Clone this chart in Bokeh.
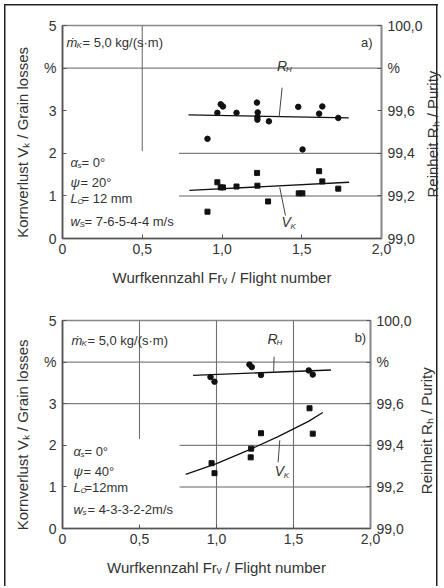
from bokeh.plotting import figure
from bokeh.layouts import column, row
from bokeh.models import Range1d, LinearAxis, FixedTicker
from bokeh.core.properties import value
from bokeh.embed import file_html
from bokeh.resources import INLINE

FONT = "Liberation Sans"
TXT = "#333333"
NB = "\u00a0"

# ---------------- data ----------------
x_ticks = [0, 0.5, 1.0, 1.5, 2.0]
x_tick_labels = ["0", "0,5", "1,0", "1,5", "2,0"]
vk_ticks = [0, 1, 2, 3, 4, 5]
vk_tick_labels = ["0", "1", "2", "3", "%", "5"]
rh_ticks = [99.0, 99.2, 99.4, 99.6, 99.8, 100.0]
rh_tick_labels = ["99,0", "99,2", "99,4", "99,6", "%", "100,0"]

x_title = "Wurfkennzahl Frᵥ / Flight number"
left_title = "Kornverlust Vₖ / Grain losses"
right_title = "Reinheit Rₕ / Purity"

# panel a)  Grain losses V_K (%) and purity R_H (%)
a_vk_fr = [0.909, 0.971, 0.992, 1.006, 1.091, 1.220, 1.222, 1.289, 1.481, 1.504, 1.609, 1.629, 1.729]
a_vk = [0.63, 1.32, 1.20, 1.20, 1.22, 1.54, 1.24, 0.87, 1.06, 1.06, 1.58, 1.34, 1.17]
a_rh_fr = [0.909, 0.971, 0.992, 1.006, 1.091, 1.219, 1.224, 1.222, 1.222, 1.294, 1.478, 1.505, 1.609, 1.629, 1.729]
a_rh = [99.468, 99.590, 99.630, 99.620, 99.590, 99.638, 99.592, 99.570, 99.558, 99.550, 99.618, 99.418, 99.586, 99.620, 99.566]
a_vk_fit_fr = [0.795, 1.797]
a_vk_fit = [1.13, 1.32]
a_rh_fit_fr = [0.790, 1.795]
a_rh_fit = [99.580, 99.566]

# panel b)
b_vk_fr = [0.968, 0.987, 1.225, 1.222, 1.289, 1.604, 1.625]
b_vk = [1.57, 1.33, 1.92, 1.71, 2.29, 2.89, 2.28]
b_rh_fr = [0.961, 0.987, 1.214, 1.229, 1.289, 1.599, 1.625]
b_rh = [99.728, 99.706, 99.788, 99.776, 99.738, 99.760, 99.740]
b_vk_fit_fr = [0.80, 1.00, 1.20, 1.40, 1.60, 1.69]
b_vk_fit = [1.30, 1.56, 1.87, 2.21, 2.58, 2.79]
b_rh_fit_fr = [0.848, 1.743]
b_rh_fit = [99.736, 99.762]

# reference lines inside the plots (x0, x1, y)
a_hlines = [(0.0, 2.0, 4.0), (0.73, 2.0, 2.0), (0.73, 2.0, 1.0)]
a_vlines = [(0.5, 2.05, 5.0)]
b_hlines = [(0.0, 2.0, 4.0), (0.0, 2.0, 3.0), (0.76, 2.0, 2.0), (0.76, 2.0, 1.0)]
b_vlines = [(0.5, 2.15, 5.0), (1.0, 0.0, 5.0), (1.5, 0.0, 5.0)]

# leader lines of curve labels  (x0, y0, x1, y1)
a_rh_leader = (1.377, 99.708, 1.358, 99.570)
a_vk_leader = (1.362, 1.20, 1.398, 0.54)
b_rh_leader = (1.374, 99.826, 1.371, 99.754)
b_vk_leader = (1.411, 2.12, 1.400, 1.59)


def rich(p, x, y, parts, y_range_name="default"):
    """parts: (text, dx_px, dy_px, size_px, italic)"""
    for t, dx, dy, sz, it in parts:
        p.text(x=[x], y=[y], text=[t], x_offset=dx, y_offset=dy,
               text_font=value(FONT), text_font_size=f"{sz}px",
               text_font_style="italic" if it else "normal",
               text_color=TXT, text_baseline="middle", text_align="left",
               y_range_name=y_range_name)


def style_axis(ax, ticks, labels):
    ax.ticker = FixedTicker(ticks=ticks)
    ax.major_label_overrides = {t: l for t, l in zip(ticks, labels)}
    ax.major_label_text_font = FONT
    ax.major_label_text_font_size = "14px"
    ax.major_label_text_color = TXT
    ax.axis_label_text_font = FONT
    ax.axis_label_text_font_size = "15px"
    ax.axis_label_text_font_style = "normal"
    ax.axis_label_text_color = TXT
    ax.major_tick_in = 4
    ax.major_tick_out = 0
    ax.minor_tick_in = 0
    ax.minor_tick_out = 0
    ax.major_tick_line_color = "#555555"
    ax.axis_line_color = "#555555"
    ax.axis_line_width = 1.6


def panel(width, height, bt, bb, br, hl, vl):
    p = figure(width=width, height=height, x_range=Range1d(0, 2), y_range=Range1d(0, 5),
               output_backend="svg", toolbar_location=None,
               min_border_left=62, min_border_right=br, min_border_top=bt, min_border_bottom=bb)
    p.extra_y_ranges = {"pur": Range1d(99.0, 100.0)}
    p.xgrid.visible = False
    p.ygrid.visible = False
    p.border_fill_color = None
    p.background_fill_color = None
    p.outline_line_color = "#888888"
    p.outline_line_width = 1.6

    xa = p.xaxis[0]
    style_axis(xa, x_ticks, x_tick_labels)
    xa.axis_label = x_title
    xa.major_label_standoff = 5
    xa.axis_label_standoff = 12

    ya = p.yaxis[0]
    style_axis(ya, vk_ticks, vk_tick_labels)
    ya.axis_label = left_title + NB * 5
    ya.major_label_standoff = 6
    ya.axis_label_standoff = 10

    ra = LinearAxis(y_range_name="pur")
    style_axis(ra, rh_ticks, rh_tick_labels)
    ra.axis_line_color = "#888888"
    ra.major_label_standoff = 6
    p.add_layout(ra, "right")

    for x0, x1, y in hl:
        light = (y == 1.0)
        p.segment(x0=[x0], x1=[x1], y0=[y], y1=[y],
                  line_color="#b0b0b0" if light else "#808080",
                  line_width=2.0 if light else 1.2)
    for x, y0, y1 in vl:
        p.segment(x0=[x], x1=[x], y0=[y0], y1=[y1], line_color="#707070", line_width=1.1)
    return p


def title_strip(width, height, bt, bb, standoff, pad):
    """narrow strip whose (left) axis carries the purity title, read bottom-to-top"""
    t = figure(width=width, height=height, x_range=Range1d(0, 1), y_range=Range1d(0, 5),
               output_backend="svg", toolbar_location=None, x_axis_location=None,
               min_border_left=width - 1, min_border_right=0, min_border_top=bt, min_border_bottom=bb)
    t.xgrid.visible = False
    t.ygrid.visible = False
    t.border_fill_color = None
    t.background_fill_color = None
    t.outline_line_color = None
    ax = t.yaxis[0]
    ax.ticker = FixedTicker(ticks=[])
    ax.axis_line_color = None
    ax.major_tick_line_color = None
    ax.minor_tick_line_color = None
    ax.major_tick_in = 0
    ax.major_tick_out = 0
    ax.minor_tick_in = 0
    ax.minor_tick_out = 0
    ax.major_label_standoff = 0
    ax.axis_label = right_title + NB * pad
    ax.axis_label_text_font = FONT
    ax.axis_label_text_font_size = "15px"
    ax.axis_label_text_font_style = "normal"
    ax.axis_label_text_color = TXT
    ax.axis_label_standoff = standoff
    return t


# ---------------- panel a ----------------
pa = panel(425, 300, 25, 62, 41, a_hlines, a_vlines)
pa.line(a_rh_fit_fr, a_rh_fit, y_range_name="pur", line_color="#111111", line_width=1.3)
pa.line(a_vk_fit_fr, a_vk_fit, line_color="#111111", line_width=1.3)
pa.scatter(a_rh_fr, a_rh, y_range_name="pur", marker="circle", size=5.5, color="#111111")
pa.scatter(a_vk_fr, a_vk, marker="square", size=5, color="#111111")
pa.segment(x0=[a_rh_leader[0]], y0=[a_rh_leader[1]], x1=[a_rh_leader[2]], y1=[a_rh_leader[3]],
           y_range_name="pur", line_color="#444444", line_width=1)
pa.segment(x0=[a_vk_leader[0]], y0=[a_vk_leader[1]], x1=[a_vk_leader[2]], y1=[a_vk_leader[3]],
           line_color="#444444", line_width=1)
rich(pa, 1.345, 99.812, [("R", 0, 0, 14, True), ("H", 9, 4, 8, True)], "pur")
rich(pa, 1.373, 0.383, [("V", 0, 0, 14, True), ("K", 9, 4, 8, True)])
rich(pa, 0.025, 4.60, [("ṁ", 0, 0, 13, True), ("K", 10, 3, 8, True), ("= 5,0 kg/(s·m)", 16, 0, 13, False)])
pa.text(x=[1.944], y=[4.60], text=["a)"], text_font=value(FONT), text_font_size="13px",
        text_color=TXT, text_baseline="middle", text_align="right")
rich(pa, 0.05, 1.79, [("α", 0, 0, 13, True), ("s", 7, 3, 8, True), ("= 0°", 11, 0, 13, False)])
rich(pa, 0.05, 1.32, [("ψ", 0, 0, 13, True), ("= 20°", 10, 0, 13, False)])
rich(pa, 0.05, 0.946, [("L", 0, 0, 13, True), ("O", 7, 3, 8, True), ("= 12 mm", 11, 0, 13, False)])
rich(pa, 0.05, 0.406, [("w", 0, 0, 13, True), ("S", 9, 3, 8, True), ("= 7-6-5-4-4 m/s", 14, 0, 13, False)])
ta = title_strip(19, 300, 25, 62, 4, 1)

# ---------------- panel b ----------------
pb = panel(414, 286, 20, 58, 41, b_hlines, b_vlines)
pb.line(b_rh_fit_fr, b_rh_fit, y_range_name="pur", line_color="#111111", line_width=1.3)
pb.line(b_vk_fit_fr, b_vk_fit, line_color="#111111", line_width=1.3)
pb.scatter(b_rh_fr, b_rh, y_range_name="pur", marker="circle", size=5.5, color="#111111")
pb.scatter(b_vk_fr, b_vk, marker="square", size=5, color="#111111")
pb.segment(x0=[b_rh_leader[0]], y0=[b_rh_leader[1]], x1=[b_rh_leader[2]], y1=[b_rh_leader[3]],
           y_range_name="pur", line_color="#444444", line_width=1)
pb.segment(x0=[b_vk_leader[0]], y0=[b_vk_leader[1]], x1=[b_vk_leader[2]], y1=[b_vk_leader[3]],
           line_color="#444444", line_width=1)
rich(pb, 1.331, 99.912, [("R", 0, 0, 14, True), ("H", 9, 4, 8, True)], "pur")
rich(pb, 1.379, 1.38, [("V", 0, 0, 14, True), ("K", 9, 4, 8, True)])
rich(pb, 0.058, 4.52, [("ṁ", 0, 0, 13, True), ("K", 10, 3, 8, True), ("= 5,0 kg/(s·m)", 16, 0, 13, False)])
pb.text(x=[1.972], y=[4.60], text=["b)"], text_font=value(FONT), text_font_size="13px",
        text_color=TXT, text_baseline="middle", text_align="right")
rich(pb, 0.071, 1.85, [("α", 0, 0, 13, True), ("s", 7, 3, 8, True), ("= 0°", 11, 0, 13, False)])
rich(pb, 0.071, 1.38, [("ψ", 0, 0, 13, True), ("= 40°", 10, 0, 13, False)])
rich(pb, 0.071, 0.99, [("L", 0, 0, 13, True), ("O", 7, 3, 8, True), ("=12mm", 11, 0, 13, False)])
rich(pb, 0.071, 0.45, [("w", 0, 0, 13, True), ("s", 9, 3, 8, True), ("= 4-3-3-2-2m/s", 14, 0, 13, False)])
tb = title_strip(30, 286, 20, 58, 9, 3)

layout = column(row(pa, ta, spacing=0), row(pb, tb, spacing=0), spacing=0, styles={
    "background-image": "linear-gradient(#222,#222),linear-gradient(#222,#222),linear-gradient(#222,#222)",
    "background-size": "1.5px 600px, 1.5px 600px, 434px 1.5px",
    "background-position": "4px 4px, 436px 4px, 4px 4px",
    "background-repeat": "no-repeat",
})

open("out.html", "w").write(file_html(layout, INLINE))
